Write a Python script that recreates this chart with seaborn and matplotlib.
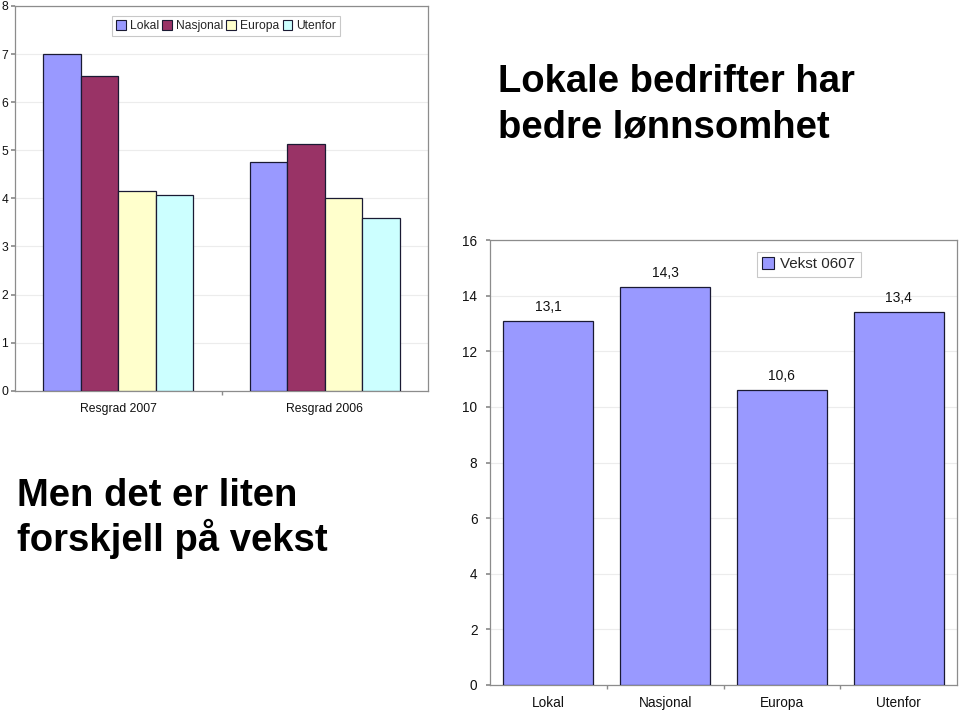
import matplotlib
matplotlib.use("Agg")
import matplotlib.pyplot as plt
from matplotlib.patches import Patch
import seaborn as sns
import pandas as pd

# ---- data ----
groups = ["Resgrad 2007", "Resgrad 2006"]
series = ["Lokal", "Nasjonal", "Europa", "Utenfor"]
resgrad_2007 = [7.0, 6.55, 4.16, 4.06]
resgrad_2006 = [4.76, 5.12, 4.0, 3.59]
vekst_categories = ["Lokal", "Nasjonal", "Europa", "Utenfor"]
vekst_0607 = [13.1, 14.3, 10.6, 13.4]
vekst_labels = ["13,1", "14,3", "10,6", "13,4"]

colors = ["#9999FF", "#993366", "#FFFFCC", "#CCFFFF"]

sns.set_theme(style="white")
plt.rcParams["font.family"] = ["Liberation Sans", "DejaVu Sans"]

W, H = 960, 713
fig = plt.figure(figsize=(W / 100, H / 100), dpi=100)

def px_axes(x0, y0, x1, y1):
    return fig.add_axes([x0 / W, 1 - y1 / H, (x1 - x0) / W, (y1 - y0) / H])

spine_col = "#8c8c8c"
grid_col = "#ececec"
edge_col = "#1a1a33"

# ---- left chart ----
ax1 = px_axes(15, 6, 428, 390.7)
df1 = pd.DataFrame({
    "group": [g for g in groups for _ in series],
    "series": series * 2,
    "value": resgrad_2007 + resgrad_2006,
})
sns.barplot(data=df1, x="group", y="value", hue="series", order=groups,
            hue_order=series, palette=colors, width=0.728, gap=0,
            edgecolor=edge_col, linewidth=0.9, saturation=1, ax=ax1,
            legend=False, zorder=3)
ax1.set_ylim(0, 8)
ax1.set_xlim(-0.5, 1.5)
ax1.set_yticks(range(0, 9))
ax1.set_xlabel("")
ax1.set_ylabel("")
ax1.yaxis.grid(True, color=grid_col, linewidth=0.8, zorder=0)
ax1.set_axisbelow(True)
for s in ax1.spines.values():
    s.set_color(spine_col)
    s.set_linewidth(0.9)
ax1.tick_params(axis="y", labelsize=8.7, length=3, color=spine_col, pad=2,
                left=True, labelcolor="#111111")
ax1.set_xticks([0.5], minor=True)
ax1.tick_params(axis="x", which="major", length=0, labelsize=8.7, pad=9,
                labelcolor="#111111")
ax1.tick_params(axis="x", which="minor", length=3, color=spine_col, bottom=True)
h1 = [Patch(facecolor=c, edgecolor=edge_col, linewidth=0.8) for c in colors]
leg1 = ax1.legend(h1, series, loc="upper left", bbox_to_anchor=(97 / 413, 1 - 10 / 384.7),
                  ncol=4, fontsize=8.7, frameon=True, fancybox=False,
                  handlelength=0.8, handleheight=0.8, handletextpad=0.3,
                  columnspacing=0.3, borderpad=0.35, borderaxespad=0)
leg1.get_frame().set_edgecolor("#bbbbbb")
leg1.get_frame().set_linewidth(0.8)

# ---- right chart ----
ax2 = px_axes(490, 240, 957, 685)
df2 = pd.DataFrame({"cat": vekst_categories, "value": vekst_0607})
sns.barplot(data=df2, x="cat", y="value", order=vekst_categories,
            color=colors[0], width=0.77, edgecolor=edge_col, linewidth=0.9,
            saturation=1, ax=ax2, zorder=3)
ax2.set_ylim(0, 16)
ax2.set_xlim(-0.5, 3.5)
ax2.set_yticks(range(0, 17, 2))
ax2.set_xlabel("")
ax2.set_ylabel("")
ax2.yaxis.grid(True, color=grid_col, linewidth=0.8, zorder=0)
ax2.set_axisbelow(True)
for s in ax2.spines.values():
    s.set_color(spine_col)
    s.set_linewidth(0.9)
ax2.tick_params(axis="y", labelsize=9.8, length=3, color=spine_col, pad=6,
                left=True, labelcolor="#111111")
ax2.set_xticks([0.5, 1.5, 2.5], minor=True)
ax2.tick_params(axis="x", which="major", length=0, labelsize=9.8, pad=8,
                labelcolor="#111111")
ax2.tick_params(axis="x", which="minor", length=3, color=spine_col, bottom=True)
ax2.bar_label(ax2.containers[0], labels=vekst_labels, padding=5, fontsize=10,
              color="#111111")
h2 = [Patch(facecolor=colors[0], edgecolor=edge_col, linewidth=0.8)]
leg2 = ax2.legend(h2, ["Vekst 0607"], loc="upper left",
                  bbox_to_anchor=((757 - 490) / 467, 1 - 12 / 445),
                  fontsize=10.9, frameon=True, fancybox=False,
                  handlelength=0.8, handleheight=0.8, handletextpad=0.4,
                  borderpad=0.35, borderaxespad=0)
leg2.get_frame().set_edgecolor("#bbbbbb")
leg2.get_frame().set_linewidth(0.8)

# ---- headline texts ----
tkw = dict(fontsize=27.5, fontweight="bold", color="black", va="baseline", ha="left")
fig.text(498 / W, 1 - 92 / H, "Lokale bedrifter har", **tkw)
fig.text(498 / W, 1 - 138 / H, "bedre lønnsomhet", **tkw)
fig.text(17 / W, 1 - 506 / H, "Men det er liten", **tkw)
fig.text(17 / W, 1 - 551 / H, "forskjell på vekst", **tkw)

fig.savefig("out.png", dpi=100)
